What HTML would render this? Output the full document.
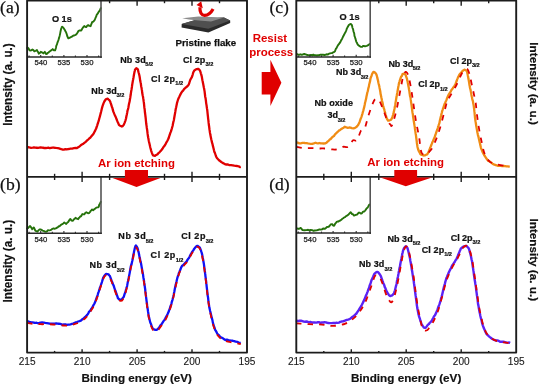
<!DOCTYPE html>
<html><head><meta charset="utf-8"><style>
html,body{margin:0;padding:0;background:#fff;width:539px;height:385px;overflow:hidden;font-family:"Liberation Sans",sans-serif}
svg{display:block;will-change:transform}
</style></head><body>
<svg width="539" height="385" viewBox="0 0 539 385">
<rect width="539" height="385" fill="#fff"/>
<path d="M27.20 48.00 L28.00 47.82 L28.56 48.39 L29.26 49.91 L30.00 50.51 L31.20 50.35 L32.40 49.56 L33.39 50.15 L34.40 51.39 L35.66 50.76 L36.90 50.04 L37.57 51.23 L38.18 52.23 L38.80 53.68 L39.76 53.02 L40.80 51.78 L42.08 52.36 L43.30 53.39 L44.80 51.81 L45.50 53.21 L46.20 54.07 L46.94 53.88 L47.70 52.99 L48.45 52.69 L49.20 51.72 L50.70 50.65 L51.64 50.15 L52.70 49.09 L53.93 50.32 L55.10 50.38 L55.45 49.29 L55.74 48.61 L56.01 47.44 L56.28 45.84 L56.60 45.15 L56.98 44.37 L57.39 42.83 L57.81 41.62 L58.22 40.66 L58.60 39.59 L58.88 38.50 L59.14 37.87 L59.38 36.87 L59.62 35.91 L59.86 34.85 L60.10 33.86 L60.36 32.43 L60.63 31.02 L60.91 29.82 L61.17 28.68 L61.40 28.11 L61.60 27.39 L62.20 26.64 L63.50 27.88 L64.21 29.15 L65.00 30.22 L65.46 31.33 L65.95 31.99 L66.44 33.31 L66.90 34.78 L67.30 36.25 L67.67 36.98 L68.03 37.87 L68.40 38.38 L69.90 37.68 L70.88 37.10 L71.90 36.70 L72.82 35.86 L73.80 35.50 L75.04 35.04 L76.30 34.42 L77.00 33.30 L77.65 32.48 L78.30 31.07 L79.31 30.46 L80.30 30.48 L81.25 30.47 L82.20 28.80 L82.86 27.77 L83.53 26.78 L84.20 26.07 L85.20 26.82 L86.20 27.11 L87.18 25.75 L88.20 25.14 L89.43 25.85 L90.60 26.19 L91.01 24.98 L91.34 24.06 L91.68 23.44 L92.10 22.17 L93.32 21.60 L94.60 20.12 L95.03 19.18 L95.44 18.02 L95.83 17.12 L96.21 16.44 L96.60 15.04 L97.26 14.12 L97.90 13.34 L98.50 12.19 L99.32 11.18 L100.00 9.99 L100.80 8.20" fill="none" stroke="#25720a" stroke-width="1.9" stroke-linejoin="round" stroke-linecap="round"/>
<line x1="101.0" y1="0.6" x2="101.0" y2="57.9" stroke="#555" stroke-width="1.6"/>
<line x1="27.1" y1="57.1" x2="101.8" y2="57.1" stroke="#2a2a2a" stroke-width="1.5"/>
<g stroke="#2a2a2a" stroke-width="1.1"><line x1="29.1" y1="57.1" x2="29.1" y2="55.6"/><line x1="40.7" y1="57.1" x2="40.7" y2="54.9"/><line x1="52.3" y1="57.1" x2="52.3" y2="55.6"/><line x1="63.9" y1="57.1" x2="63.9" y2="54.9"/><line x1="75.4" y1="57.1" x2="75.4" y2="55.6"/><line x1="87.0" y1="57.1" x2="87.0" y2="54.9"/><line x1="98.6" y1="57.1" x2="98.6" y2="55.6"/></g>
<g font-family="Liberation Sans, sans-serif" font-size="7.7" fill="#1a1a1a" text-anchor="middle" stroke="#1a1a1a" stroke-width="0.25">
<text x="40.8" y="65.3">540</text>
<text x="63.9" y="65.3">535</text>
<text x="87.0" y="65.3">530</text>
</g>
<path d="M27.20 228.40 L28.00 228.10 L28.97 227.02 L30.10 226.07 L30.82 226.89 L31.54 228.09 L32.20 229.16 L33.04 228.40 L33.80 227.47 L34.29 228.33 L34.76 229.41 L35.30 230.70 L36.31 231.19 L37.40 231.59 L38.46 230.38 L39.50 229.54 L40.50 229.36 L41.50 229.86 L42.51 230.54 L43.60 230.95 L44.93 231.66 L46.20 231.73 L47.00 231.38 L47.80 230.20 L49.07 230.43 L50.40 230.10 L51.49 229.60 L52.50 228.82 L53.47 228.45 L54.50 228.75 L55.76 228.41 L57.10 227.62 L57.97 227.12 L58.84 226.16 L59.70 226.25 L60.56 225.21 L61.40 224.54 L62.20 224.18 L63.29 223.41 L64.30 222.42 L65.26 223.31 L66.20 223.98 L67.19 222.76 L68.20 221.93 L68.87 220.88 L69.56 219.77 L70.30 218.96 L71.57 220.54 L72.90 220.79 L73.77 219.48 L74.63 218.81 L75.50 217.80 L76.83 218.72 L78.10 219.17 L78.84 218.06 L79.52 217.48 L80.20 216.47 L80.90 216.33 L81.61 215.38 L82.30 214.08 L83.30 214.26 L84.30 214.41 L85.38 212.82 L86.40 212.23 L87.20 212.70 L88.00 213.24 L89.02 213.04 L90.10 211.93 L90.77 210.72 L91.43 210.25 L92.10 209.46 L93.14 210.24 L94.20 209.28 L95.25 208.65 L96.30 207.63 L97.42 207.37 L98.40 207.21 L98.80 206.73 L99.08 205.17 L99.40 204.49 L99.89 203.76 L100.42 202.64 L100.80 201.80" fill="none" stroke="#25720a" stroke-width="1.9" stroke-linejoin="round" stroke-linecap="round"/>
<line x1="101.0" y1="176.9" x2="101.0" y2="234.0" stroke="#555" stroke-width="1.6"/>
<line x1="27.1" y1="233.2" x2="101.8" y2="233.2" stroke="#2a2a2a" stroke-width="1.5"/>
<g stroke="#2a2a2a" stroke-width="1.1"><line x1="29.1" y1="233.2" x2="29.1" y2="231.7"/><line x1="40.7" y1="233.2" x2="40.7" y2="231.0"/><line x1="52.3" y1="233.2" x2="52.3" y2="231.7"/><line x1="63.9" y1="233.2" x2="63.9" y2="231.0"/><line x1="75.4" y1="233.2" x2="75.4" y2="231.7"/><line x1="87.0" y1="233.2" x2="87.0" y2="231.0"/><line x1="98.6" y1="233.2" x2="98.6" y2="231.7"/></g>
<g font-family="Liberation Sans, sans-serif" font-size="7.7" fill="#1a1a1a" text-anchor="middle" stroke="#1a1a1a" stroke-width="0.25">
<text x="40.8" y="241.8">540</text>
<text x="63.9" y="241.8">535</text>
<text x="87.0" y="241.8">530</text>
</g>
<path d="M296.90 53.90 L297.85 54.62 L299.21 54.76 L300.60 54.29 L301.83 54.79 L303.08 54.27 L304.50 54.03 L305.50 54.33 L306.59 54.75 L307.73 54.97 L308.85 55.10 L309.90 55.11 L311.10 54.97 L312.24 55.44 L313.36 54.63 L314.50 55.39 L315.69 55.30 L316.90 55.51 L318.09 55.25 L319.20 55.20 L320.54 54.67 L321.78 54.70 L323.00 54.60 L324.26 55.01 L325.50 54.81 L326.60 54.27 L327.88 54.53 L329.00 53.66 L330.18 53.40 L331.30 53.19 L332.28 53.01 L333.20 52.30 L334.08 52.03 L335.00 51.29 L335.52 49.68 L336.07 48.53 L336.64 47.83 L337.20 46.67 L337.75 45.63 L338.30 44.75 L338.85 44.30 L339.40 43.33 L339.95 42.74 L340.50 41.81 L341.05 40.50 L341.60 39.63 L342.16 38.66 L342.72 37.38 L343.27 36.26 L343.80 35.21 L344.30 34.28 L344.78 33.37 L345.25 32.49 L345.70 31.69 L346.15 30.62 L346.58 29.42 L347.00 28.16 L347.40 27.52 L348.13 26.25 L348.80 25.05 L350.00 24.16 L350.87 24.00 L351.80 24.84 L352.09 26.08 L352.37 27.31 L352.65 28.10 L352.93 28.80 L353.21 29.86 L353.50 31.49 L353.75 32.10 L354.01 32.81 L354.26 33.80 L354.52 36.12 L354.78 36.61 L355.04 37.27 L355.30 38.40 L355.66 39.38 L356.02 40.95 L356.38 41.82 L356.74 42.57 L357.10 43.20 L357.70 44.62 L358.31 45.08 L358.90 45.62 L360.60 46.82 L362.00 46.89 L363.30 45.87 L365.00 46.24 L366.80 45.88 L368.20 45.21 L369.60 44.10" fill="none" stroke="#25720a" stroke-width="1.9" stroke-linejoin="round" stroke-linecap="round"/>
<line x1="370.2" y1="0.6" x2="370.2" y2="57.8" stroke="#555" stroke-width="1.6"/>
<line x1="296.3" y1="57.0" x2="371.0" y2="57.0" stroke="#2a2a2a" stroke-width="1.5"/>
<g stroke="#2a2a2a" stroke-width="1.1"><line x1="298.3" y1="57.0" x2="298.3" y2="55.5"/><line x1="309.9" y1="57.0" x2="309.9" y2="54.8"/><line x1="321.5" y1="57.0" x2="321.5" y2="55.5"/><line x1="333.1" y1="57.0" x2="333.1" y2="54.8"/><line x1="344.6" y1="57.0" x2="344.6" y2="55.5"/><line x1="356.2" y1="57.0" x2="356.2" y2="54.8"/><line x1="367.8" y1="57.0" x2="367.8" y2="55.5"/></g>
<g font-family="Liberation Sans, sans-serif" font-size="7.7" fill="#1a1a1a" text-anchor="middle" stroke="#1a1a1a" stroke-width="0.25">
<text x="310.0" y="65.2">540</text>
<text x="333.1" y="65.2">535</text>
<text x="356.2" y="65.2">530</text>
</g>
<path d="M297.00 228.50 L298.80 228.95 L299.75 228.47 L300.70 227.93 L301.60 228.93 L302.50 230.06 L304.40 230.27 L306.30 230.07 L308.10 229.81 L309.29 230.32 L310.50 229.86 L312.40 230.25 L313.55 230.88 L314.70 230.53 L316.60 230.34 L317.73 230.04 L318.90 229.56 L320.07 229.57 L321.20 229.44 L322.18 229.36 L323.10 228.49 L325.00 228.68 L325.90 228.00 L326.80 227.04 L328.70 226.77 L329.67 225.78 L330.60 224.45 L332.20 224.11 L333.04 225.48 L333.90 225.80 L334.46 225.23 L335.02 223.99 L335.70 223.21 L336.56 221.93 L337.53 221.52 L338.50 221.51 L339.43 220.74 L340.37 220.48 L341.30 219.80 L342.23 218.82 L343.16 218.18 L344.10 217.49 L345.08 217.04 L346.07 216.10 L347.00 215.73 L348.24 214.83 L349.30 213.69 L350.70 212.21 L351.37 213.09 L352.10 214.15 L353.03 214.31 L354.00 215.59 L355.80 214.86 L357.20 214.50 L358.12 213.36 L359.10 212.56 L360.06 212.87 L361.00 213.65 L361.87 213.37 L362.80 211.88 L363.56 211.53 L364.39 211.51 L365.20 210.51 L365.98 209.37 L366.75 208.28 L367.50 207.71 L368.29 206.50 L369.06 205.02 L369.60 204.50" fill="none" stroke="#25720a" stroke-width="1.9" stroke-linejoin="round" stroke-linecap="round"/>
<line x1="370.2" y1="176.9" x2="370.2" y2="233.9" stroke="#555" stroke-width="1.6"/>
<line x1="296.3" y1="233.1" x2="371.0" y2="233.1" stroke="#2a2a2a" stroke-width="1.5"/>
<g stroke="#2a2a2a" stroke-width="1.1"><line x1="298.3" y1="233.1" x2="298.3" y2="231.6"/><line x1="309.9" y1="233.1" x2="309.9" y2="230.9"/><line x1="321.5" y1="233.1" x2="321.5" y2="231.6"/><line x1="333.1" y1="233.1" x2="333.1" y2="230.9"/><line x1="344.6" y1="233.1" x2="344.6" y2="231.6"/><line x1="356.2" y1="233.1" x2="356.2" y2="230.9"/><line x1="367.8" y1="233.1" x2="367.8" y2="231.6"/></g>
<g font-family="Liberation Sans, sans-serif" font-size="7.7" fill="#1a1a1a" text-anchor="middle" stroke="#1a1a1a" stroke-width="0.25">
<text x="310.0" y="241.7">540</text>
<text x="333.1" y="241.7">535</text>
<text x="356.2" y="241.7">530</text>
</g>
<path d="M27.00 147.30 L28.00 147.11 L29.41 147.45 L31.07 147.81 L32.80 147.68 L33.98 147.42 L35.25 147.57 L36.58 147.75 L37.93 147.98 L39.28 147.57 L40.60 147.35 L41.90 147.66 L43.20 147.75 L44.50 148.01 L45.80 148.01 L47.10 147.77 L48.40 147.63 L49.73 148.21 L51.10 147.90 L52.46 147.67 L53.79 147.52 L55.05 147.77 L56.20 147.97 L57.71 148.13 L59.04 148.44 L60.25 148.80 L61.40 149.17 L62.75 149.57 L63.95 149.63 L65.30 149.21 L66.51 149.47 L67.83 149.04 L69.18 148.99 L70.50 148.58 L72.20 148.55 L73.90 148.19 L75.60 147.91 L76.89 148.17 L78.19 147.21 L79.50 146.53 L80.80 145.28 L81.86 144.58 L82.93 144.02 L83.99 143.15 L85.02 142.40 L86.00 141.57 L87.12 140.35 L88.17 139.62 L89.18 138.43 L90.20 137.83 L91.04 136.63 L91.88 135.80 L92.72 134.70 L93.53 133.73 L94.30 132.19 L94.91 131.24 L95.49 129.84 L96.05 128.72 L96.60 127.26 L97.15 125.61 L97.70 123.72 L98.07 122.75 L98.45 121.53 L98.83 120.47 L99.21 118.79 L99.59 117.45 L99.96 116.08 L100.32 114.69 L100.66 113.35 L101.00 112.10 L101.41 110.41 L101.80 108.74 L102.17 107.34 L102.53 106.20 L102.88 105.23 L103.24 104.11 L103.60 103.12 L104.47 101.25 L105.33 99.99 L106.10 99.01 L107.80 98.68 L108.54 99.53 L109.37 100.21 L110.30 101.74 L110.68 103.16 L111.09 104.17 L111.51 105.55 L111.94 106.95 L112.39 107.94 L112.83 109.92 L113.27 111.41 L113.70 112.36 L114.28 113.89 L114.87 115.26 L115.46 116.42 L116.03 117.84 L116.59 119.26 L117.10 120.67 L117.80 122.30 L118.42 123.58 L119.02 124.98 L119.60 125.52 L121.80 126.49 L122.73 126.10 L123.74 124.88 L124.70 122.66 L125.03 121.69 L125.35 120.82 L125.66 119.77 L125.97 118.75 L126.27 116.94 L126.58 115.51 L126.89 114.19 L127.20 112.63 L127.49 110.78 L127.78 109.84 L128.09 108.98 L128.39 107.53 L128.69 105.64 L128.98 104.08 L129.27 102.72 L129.54 101.84 L129.80 100.31 L130.04 98.77 L130.27 97.66 L130.48 96.08 L130.69 95.06 L130.89 93.34 L131.09 91.87 L131.28 90.75 L131.49 89.69 L131.70 88.33 L131.92 86.90 L132.15 85.00 L132.39 83.59 L132.62 82.22 L132.85 80.87 L133.08 79.81 L133.30 78.47 L133.51 77.51 L133.70 76.39 L134.00 74.56 L134.27 73.10 L134.51 71.90 L134.75 70.94 L135.00 69.81 L136.30 68.16 L137.90 69.48 L138.21 70.90 L138.52 72.21 L138.83 73.26 L139.15 74.57 L139.50 76.02 L139.71 77.27 L139.92 78.54 L140.14 80.29 L140.37 81.44 L140.60 82.49 L140.83 83.36 L141.05 85.34 L141.28 86.73 L141.50 87.68 L141.72 89.19 L141.94 90.21 L142.16 92.51 L142.38 93.80 L142.60 94.98 L142.81 96.06 L143.02 96.80 L143.22 98.24 L143.40 99.25 L143.62 101.15 L143.82 102.22 L144.00 103.75 L144.18 105.69 L144.35 107.47 L144.52 108.47 L144.70 109.63 L144.85 111.30 L145.00 112.78 L145.15 113.77 L145.30 114.98 L145.45 116.24 L145.60 117.41 L145.75 118.75 L145.90 120.50 L146.05 121.89 L146.20 123.52 L146.35 124.50 L146.51 125.62 L146.66 126.64 L146.83 128.00 L147.01 129.09 L147.20 130.24 L147.38 131.94 L147.58 133.64 L147.79 135.06 L148.00 136.57 L148.22 137.78 L148.44 138.82 L148.66 140.15 L148.88 141.29 L149.10 142.22 L149.43 143.55 L149.76 144.92 L150.10 146.55 L150.44 147.97 L150.77 149.07 L151.10 150.53 L151.74 152.36 L152.36 153.97 L153.00 155.27 L155.00 155.81 L156.18 154.91 L157.60 154.15 L158.48 153.12 L159.47 152.38 L160.49 151.12 L161.50 150.01 L162.49 148.80 L163.49 146.93 L164.47 145.92 L165.40 144.36 L166.09 143.06 L166.76 141.81 L167.40 140.77 L168.01 139.59 L168.60 138.34 L169.17 136.42 L169.71 134.97 L170.23 133.12 L170.73 131.95 L171.20 130.76 L171.57 129.36 L171.92 128.25 L172.26 127.04 L172.58 125.95 L172.89 124.31 L173.20 122.79 L173.45 121.53 L173.69 120.84 L173.92 119.73 L174.15 118.26 L174.38 116.93 L174.63 115.53 L174.90 114.09 L175.13 112.79 L175.37 111.41 L175.61 109.79 L175.86 108.40 L176.12 107.51 L176.39 106.14 L176.66 104.73 L176.93 103.40 L177.20 102.32 L177.69 100.74 L178.18 99.17 L178.70 98.05 L179.23 96.98 L179.80 95.66 L180.58 94.12 L181.41 92.65 L182.27 91.32 L183.10 90.59 L184.22 88.82 L185.33 87.98 L186.30 87.11 L187.38 86.24 L188.30 85.28 L188.78 84.48 L189.25 83.03 L189.72 81.51 L190.20 80.08 L190.89 78.71 L191.58 77.71 L192.20 76.29 L192.66 74.70 L193.05 73.20 L193.50 71.95 L194.37 70.39 L195.40 69.78 L196.69 69.10 L198.00 68.78 L199.06 69.54 L200.00 70.51 L200.43 71.79 L200.82 73.28 L201.21 74.40 L201.60 75.85 L201.87 77.04 L202.13 78.69 L202.40 80.27 L202.67 81.20 L202.93 82.87 L203.20 84.10 L203.43 85.24 L203.67 86.44 L203.90 87.76 L204.14 88.75 L204.36 90.10 L204.59 91.39 L204.80 93.06 L205.00 94.90 L205.20 96.64 L205.39 97.50 L205.57 98.28 L205.75 99.60 L205.93 100.77 L206.10 102.58 L206.33 104.12 L206.54 105.22 L206.75 106.83 L206.96 108.39 L207.20 109.75 L207.34 110.94 L207.49 112.31 L207.64 113.79 L207.80 115.30 L207.95 116.71 L208.11 118.28 L208.28 119.61 L208.44 120.89 L208.60 122.70 L208.78 124.12 L208.95 125.52 L209.12 126.45 L209.29 127.88 L209.47 129.48 L209.66 130.48 L209.87 132.17 L210.10 133.38 L210.36 134.86 L210.64 136.19 L210.94 137.65 L211.25 139.29 L211.57 140.45 L211.89 142.12 L212.20 143.07 L212.50 144.10 L212.88 145.94 L213.24 147.19 L213.61 148.65 L213.98 150.33 L214.37 151.86 L214.80 152.57 L215.34 154.24 L215.91 156.01 L216.51 157.33 L217.16 158.21 L217.90 159.06 L218.95 160.21 L220.11 161.03 L221.34 162.02 L222.60 162.86 L223.88 163.51 L225.20 164.29 L226.57 164.51 L228.00 164.51 L229.51 165.19 L231.08 165.15 L232.69 165.37 L234.30 165.67 L235.69 165.89 L237.20 166.00 L238.66 166.33 L239.91 167.13 L240.80 166.90" fill="none" stroke="#e00000" stroke-width="2.3" stroke-linejoin="round"/>
<path d="M27.00 321.60 L28.00 321.41 L29.41 321.90 L31.07 322.16 L32.80 322.31 L33.98 322.75 L35.25 322.78 L36.58 322.73 L37.93 323.25 L39.28 322.96 L40.60 322.63 L42.16 322.44 L43.72 322.54 L45.28 322.87 L46.84 323.08 L48.40 323.29 L49.70 323.59 L51.00 323.74 L52.30 323.59 L53.60 323.73 L54.90 323.68 L56.20 323.41 L57.53 323.70 L58.90 323.76 L60.26 323.82 L61.59 324.48 L62.85 324.57 L64.00 324.33 L65.48 324.35 L66.76 324.97 L67.96 324.58 L69.20 324.53 L70.50 324.32 L71.81 323.98 L73.11 323.62 L74.40 322.95 L75.68 322.43 L76.95 322.02 L78.22 321.49 L79.50 321.16 L80.85 320.71 L82.24 319.35 L83.57 318.55 L84.70 317.35 L85.82 316.25 L86.67 315.37 L87.50 314.46 L88.32 313.32 L89.12 311.59 L90.10 310.81 L90.72 309.81 L91.41 308.65 L92.15 307.80 L92.90 306.41 L93.63 304.83 L94.30 303.84 L94.83 302.80 L95.33 301.29 L95.82 300.28 L96.29 298.96 L96.76 297.21 L97.23 296.36 L97.70 294.87 L98.12 293.21 L98.55 292.11 L98.98 290.80 L99.40 289.69 L99.82 287.89 L100.23 286.98 L100.62 285.90 L101.00 284.76 L101.48 283.28 L101.92 282.03 L102.35 280.61 L102.77 279.17 L103.18 277.71 L103.60 277.06 L104.44 275.71 L105.27 274.62 L106.10 274.00 L107.34 274.12 L108.60 274.32 L109.22 275.44 L109.84 275.89 L110.49 277.57 L111.20 279.55 L111.64 281.05 L112.12 281.89 L112.61 283.27 L113.11 284.56 L113.61 285.39 L114.11 287.23 L114.60 288.58 L115.08 289.92 L115.57 291.04 L116.06 292.50 L116.54 293.89 L117.01 295.46 L117.47 296.46 L117.90 298.12 L119.25 299.41 L120.50 299.75 L121.76 299.38 L123.00 297.74 L123.51 297.24 L124.04 296.02 L124.56 294.15 L125.05 292.83 L125.50 291.79 L125.90 289.97 L126.28 288.76 L126.62 287.39 L126.92 286.74 L127.20 285.40 L127.53 283.59 L127.77 282.11 L128.10 280.95 L128.35 279.45 L128.64 278.63 L128.96 276.47 L129.27 275.01 L129.56 273.62 L129.80 272.29 L130.10 270.54 L130.29 269.33 L130.60 267.40 L130.89 265.86 L131.24 265.10 L131.62 264.00 L132.02 262.10 L132.40 260.52 L132.67 258.51 L132.94 257.60 L133.22 255.73 L133.50 254.21 L133.78 253.42 L134.04 251.55 L134.30 250.47 L134.85 248.09 L135.37 246.25 L135.90 245.52 L136.73 246.43 L137.60 248.28 L137.90 249.29 L138.19 250.74 L138.49 251.93 L138.81 252.99 L139.14 255.07 L139.50 256.66 L139.73 258.02 L139.98 258.70 L140.23 260.36 L140.49 261.09 L140.76 262.03 L141.03 263.53 L141.31 265.00 L141.58 266.61 L141.84 267.92 L142.10 269.60 L142.32 271.12 L142.54 272.04 L142.76 273.00 L142.99 274.42 L143.21 276.13 L143.43 277.68 L143.65 278.83 L143.86 279.91 L144.06 281.33 L144.25 282.89 L144.43 283.81 L144.60 285.31 L144.82 286.77 L145.01 288.15 L145.18 289.22 L145.32 290.85 L145.47 291.91 L145.60 292.65 L145.75 294.22 L145.90 295.35 L146.06 296.95 L146.21 298.15 L146.36 299.19 L146.51 300.55 L146.67 301.70 L146.83 302.86 L147.01 304.33 L147.20 305.97 L147.38 307.18 L147.58 308.44 L147.79 309.66 L148.00 311.26 L148.22 312.67 L148.44 314.20 L148.66 315.44 L148.88 317.07 L149.10 317.45 L149.50 319.26 L149.90 321.00 L150.30 322.58 L150.70 323.32 L151.10 324.29 L151.73 326.14 L152.34 327.79 L153.00 328.98 L154.09 329.39 L155.30 329.85 L156.65 329.94 L158.20 328.76 L158.92 327.65 L159.69 326.58 L160.49 325.26 L161.30 324.63 L162.10 323.39 L162.89 322.19 L163.69 320.92 L164.48 319.87 L165.26 318.52 L166.00 317.11 L166.59 316.12 L167.17 314.90 L167.73 313.77 L168.27 312.45 L168.80 311.37 L169.30 309.87 L169.78 308.56 L170.24 307.25 L170.69 305.68 L171.11 304.75 L171.52 303.19 L171.90 301.51 L172.26 300.73 L172.59 299.55 L172.91 298.01 L173.21 296.97 L173.50 295.79 L173.80 294.48 L174.09 292.69 L174.36 291.50 L174.62 289.94 L174.89 288.58 L175.18 287.20 L175.50 285.66 L175.80 284.62 L176.11 283.03 L176.44 281.83 L176.78 280.36 L177.14 278.70 L177.51 277.36 L177.90 276.19 L178.39 274.85 L178.90 273.06 L179.44 271.94 L180.00 270.42 L180.55 269.25 L181.10 267.54 L182.20 265.68 L183.30 265.00 L184.40 263.74 L185.47 262.62 L186.53 261.64 L187.60 259.64 L188.26 258.78 L188.92 258.07 L189.58 256.78 L190.24 255.34 L190.90 254.19 L191.70 252.66 L192.50 251.41 L193.30 250.32 L194.10 248.89 L195.24 247.57 L196.40 246.37 L197.40 245.80 L199.30 247.17 L199.96 247.82 L200.64 249.61 L201.30 251.66 L201.58 252.26 L201.86 253.42 L202.14 254.40 L202.41 255.90 L202.68 257.53 L202.95 258.69 L203.20 260.06 L203.41 261.23 L203.62 262.46 L203.82 263.68 L204.01 264.84 L204.21 266.50 L204.40 267.83 L204.60 269.07 L204.80 270.94 L204.95 271.90 L205.11 273.40 L205.27 274.29 L205.43 276.09 L205.59 277.21 L205.75 278.34 L205.91 279.93 L206.06 280.94 L206.21 282.14 L206.36 283.68 L206.50 284.82 L206.68 286.54 L206.85 288.01 L207.01 289.43 L207.16 290.75 L207.32 292.19 L207.47 293.38 L207.63 294.91 L207.80 296.32 L207.97 296.99 L208.14 298.06 L208.31 300.11 L208.48 301.31 L208.66 302.75 L208.86 304.07 L209.07 305.52 L209.30 307.40 L209.56 308.31 L209.84 309.67 L210.14 311.05 L210.45 312.16 L210.77 313.45 L211.09 314.92 L211.40 316.34 L211.70 317.75 L212.08 318.83 L212.44 320.18 L212.81 322.36 L213.18 323.66 L213.57 325.21 L214.00 326.32 L214.54 327.68 L215.11 329.79 L215.71 330.67 L216.36 331.82 L217.10 333.35 L217.91 334.47 L218.79 335.08 L219.74 336.26 L220.74 337.37 L221.80 337.69 L222.94 338.34 L224.17 339.21 L225.44 340.10 L226.73 339.64 L228.00 339.98 L229.56 340.51 L231.13 340.61 L232.71 340.76 L234.30 341.10 L235.69 341.69 L237.20 341.78 L238.66 342.48 L239.91 342.96 L240.80 342.90" fill="none" stroke="#1010f5" stroke-width="2.3" stroke-linejoin="round"/>
<path d="M27.0 322.9 C28.0 323.1 30.5 323.6 32.8 323.8 C35.1 324.0 38.0 324.1 40.6 324.2 C43.2 324.3 45.8 324.1 48.4 324.2 C51.0 324.3 53.6 324.4 56.2 324.6 C58.8 324.8 61.8 325.4 64.0 325.5 C66.2 325.6 67.5 325.7 69.2 325.5 C70.9 325.3 72.7 324.7 74.4 324.2 C76.1 323.7 77.8 323.2 79.5 322.3 C81.2 321.4 83.4 319.9 84.7 318.8 C86.0 317.7 86.6 316.9 87.5 315.8 C88.4 314.7 89.0 313.9 90.1 312.1 C91.2 310.3 93.0 307.9 94.3 305.2 C95.6 302.5 96.6 299.2 97.7 295.9 C98.8 292.7 100.0 288.7 101.0 285.7 C102.0 282.7 102.8 279.9 103.6 278.1 C104.4 276.3 105.3 275.4 106.1 275.1 C106.9 274.8 107.8 275.2 108.6 276.1 C109.4 277.0 110.2 278.4 111.2 280.7 C112.2 283.0 113.5 287.0 114.6 289.9 C115.7 292.9 116.9 296.6 117.9 298.4 C118.9 300.2 119.7 300.8 120.5 300.9 C121.3 301.0 122.2 300.6 123.0 299.2 C123.8 297.8 124.8 294.9 125.5 292.8 C126.2 290.7 126.8 288.1 127.2 286.3 C127.6 284.5 127.7 283.9 128.1 281.8 C128.5 279.7 129.4 276.0 129.8 273.8 C130.2 271.6 130.2 270.8 130.6 268.8 C131.0 266.8 131.8 264.5 132.4 261.7 C133.0 258.9 133.7 254.2 134.3 251.8 C134.9 249.4 135.4 247.7 135.9 247.4 C136.4 247.1 137.0 248.3 137.6 250.0 C138.2 251.7 138.8 254.3 139.5 257.8 C140.2 261.3 141.2 266.1 142.1 270.8 C142.9 275.6 144.0 282.0 144.6 286.3 C145.2 290.6 145.5 293.2 145.9 296.7 C146.3 300.2 146.7 303.4 147.2 307.1 C147.7 310.8 148.4 315.7 149.1 318.8 C149.8 321.9 150.4 324.1 151.1 326.0 C151.8 327.9 152.3 329.0 153.0 329.9 C153.7 330.8 154.4 331.2 155.3 331.2 C156.2 331.2 157.1 331.0 158.2 329.9 C159.3 328.8 160.8 326.6 162.1 324.7 C163.4 322.8 164.8 321.1 166.0 318.8 C167.2 316.5 168.3 313.6 169.3 311.0 C170.3 308.4 171.2 305.8 171.9 303.2 C172.7 300.6 173.2 298.1 173.8 295.4 C174.4 292.8 174.8 290.3 175.5 287.3 C176.2 284.3 177.0 280.4 177.9 277.3 C178.8 274.2 180.0 271.0 181.1 268.9 C182.2 266.9 183.3 266.3 184.4 265.0 C185.5 263.7 186.5 262.7 187.6 261.1 C188.7 259.5 189.8 257.1 190.9 255.2 C192.0 253.4 193.0 251.4 194.1 250.0 C195.2 248.6 196.5 247.1 197.4 246.8 C198.3 246.5 198.7 247.1 199.3 248.1 C200.0 249.1 200.7 250.3 201.3 252.6 C202.0 254.9 202.6 258.4 203.2 261.7 C203.8 264.9 204.2 268.0 204.8 272.1 C205.4 276.2 206.0 282.1 206.5 286.3 C207.0 290.5 207.3 293.6 207.8 297.2 C208.3 300.8 208.7 304.5 209.3 308.1 C210.0 311.7 210.9 315.8 211.7 319.0 C212.5 322.2 213.1 325.0 214.0 327.6 C214.9 330.2 215.8 332.7 217.1 334.6 C218.4 336.6 220.0 338.1 221.8 339.3 C223.6 340.5 225.9 341.0 228.0 341.6 C230.1 342.2 232.2 342.3 234.3 342.7 C236.4 343.1 239.7 343.9 240.8 344.2" fill="none" stroke="#e00000" stroke-width="1.8" stroke-linejoin="round" stroke-dasharray="5.5 6"/>
<path d="M296.30 142.30 L297.56 142.59 L299.36 143.40 L301.20 143.29 L302.46 142.81 L303.74 142.93 L305.05 143.01 L306.40 143.05 L307.87 143.36 L309.42 143.65 L310.91 143.85 L312.20 143.89 L313.81 143.41 L315.50 142.76 L316.63 143.08 L317.97 143.28 L319.39 143.01 L320.78 143.41 L322.00 143.38 L323.69 143.48 L325.16 143.38 L326.50 142.75 L327.62 141.45 L328.60 140.91 L329.80 139.38 L330.72 139.08 L331.74 137.77 L332.83 136.64 L333.93 136.02 L335.00 134.32 L336.05 133.46 L337.11 132.26 L338.17 131.35 L339.20 130.41 L340.20 129.95 L341.40 128.95 L342.57 128.22 L343.68 127.67 L344.70 126.72 L346.34 127.39 L347.90 127.79 L349.17 127.50 L350.52 127.64 L351.80 128.09 L353.53 128.40 L355.10 127.82 L356.41 127.09 L357.70 125.52 L358.30 124.74 L358.92 123.38 L359.56 122.21 L360.22 120.23 L360.90 118.24 L361.24 117.48 L361.59 116.52 L361.95 115.23 L362.31 114.09 L362.67 112.75 L363.03 111.53 L363.40 110.30 L363.77 108.80 L364.13 107.40 L364.50 105.65 L364.81 104.20 L365.12 102.33 L365.44 101.38 L365.76 100.08 L366.09 98.82 L366.41 96.85 L366.72 95.50 L367.04 94.10 L367.34 92.40 L367.64 91.59 L367.93 90.65 L368.20 88.97 L368.54 87.63 L368.87 86.55 L369.17 84.55 L369.47 83.44 L369.75 82.40 L370.04 81.36 L370.32 79.46 L370.61 78.09 L370.90 77.28 L371.57 75.71 L372.24 73.74 L372.92 72.57 L373.60 71.83 L375.00 72.47 L376.40 74.45 L376.74 75.56 L377.06 76.74 L377.38 78.14 L377.70 79.38 L378.03 80.77 L378.36 82.52 L378.72 84.11 L379.10 85.40 L379.33 86.43 L379.57 87.93 L379.81 89.14 L380.06 90.30 L380.32 91.72 L380.57 93.92 L380.84 94.86 L381.10 96.17 L381.37 97.51 L381.64 98.67 L381.91 100.28 L382.17 101.63 L382.44 102.78 L382.70 103.46 L383.07 105.48 L383.46 107.15 L383.85 108.55 L384.24 109.33 L384.63 111.11 L385.02 112.36 L385.39 113.86 L385.75 115.08 L386.09 116.08 L386.40 117.44 L387.29 119.44 L388.03 120.59 L388.70 120.59 L390.40 119.97 L390.99 119.70 L391.66 118.80 L392.37 117.17 L393.10 114.80 L393.33 113.87 L393.57 112.97 L393.81 112.10 L394.05 110.86 L394.30 109.72 L394.55 108.46 L394.80 106.93 L395.05 105.74 L395.31 104.28 L395.56 102.60 L395.81 101.07 L396.06 99.68 L396.30 98.17 L396.56 96.51 L396.82 95.27 L397.08 93.75 L397.34 92.51 L397.60 90.83 L397.86 89.43 L398.11 88.04 L398.37 86.49 L398.63 85.25 L398.88 83.80 L399.14 82.61 L399.40 81.86 L399.93 80.08 L400.49 78.48 L401.04 76.97 L401.57 76.18 L402.06 75.77 L402.50 74.18 L404.20 73.49 L404.95 74.02 L405.79 75.38 L406.70 78.03 L406.92 78.39 L407.14 79.83 L407.37 80.54 L407.61 81.61 L407.85 83.03 L408.09 84.24 L408.33 85.65 L408.58 86.88 L408.83 88.10 L409.07 89.71 L409.32 90.98 L409.56 92.97 L409.80 94.40 L409.99 95.88 L410.19 96.56 L410.38 97.32 L410.58 98.29 L410.77 99.92 L410.96 101.15 L411.16 102.86 L411.35 103.92 L411.54 105.14 L411.74 106.85 L411.93 108.20 L412.12 109.83 L412.32 111.34 L412.51 112.64 L412.71 113.54 L412.90 114.73 L413.10 116.79 L413.30 117.88 L413.51 119.26 L413.71 120.61 L413.93 121.96 L414.14 123.30 L414.35 124.57 L414.56 125.91 L414.76 126.87 L414.96 128.95 L415.16 130.17 L415.34 131.08 L415.52 132.58 L415.69 133.92 L415.85 134.55 L416.00 135.57 L416.29 138.16 L416.52 139.95 L416.71 141.47 L416.88 142.97 L417.04 143.97 L417.21 144.96 L417.40 146.46 L417.75 147.88 L418.10 149.09 L418.47 150.31 L418.90 151.26 L419.57 152.26 L420.33 154.06 L421.10 154.71 L423.50 155.49 L424.81 155.43 L426.10 154.72 L427.22 154.32 L428.40 152.40 L428.95 151.00 L429.52 149.73 L430.12 147.72 L430.75 146.51 L431.40 144.77 L431.88 143.64 L432.38 142.24 L432.90 141.26 L433.43 139.99 L433.95 138.85 L434.48 137.73 L435.00 136.12 L435.46 134.73 L435.94 133.45 L436.42 131.88 L436.89 130.51 L437.36 129.53 L437.81 128.00 L438.22 126.36 L438.60 125.37 L439.04 124.11 L439.41 123.09 L439.74 121.33 L440.05 119.71 L440.36 118.46 L440.70 117.06 L441.06 115.72 L441.42 114.09 L441.79 112.71 L442.16 111.12 L442.53 110.08 L442.90 108.81 L443.46 107.27 L444.02 105.68 L444.60 104.00 L445.20 102.77 L445.68 101.60 L446.16 100.64 L446.65 99.45 L447.19 97.94 L447.80 96.53 L448.51 94.91 L449.30 93.67 L450.13 92.45 L450.94 91.06 L451.70 89.62 L452.55 88.77 L453.34 87.24 L454.11 86.51 L454.90 85.22 L455.45 84.26 L456.00 82.50 L456.55 81.32 L457.10 79.57 L457.65 78.36 L458.20 76.95 L459.00 75.45 L459.80 74.08 L460.60 73.20 L461.40 72.36 L462.54 71.01 L463.70 70.15 L464.70 69.59 L466.60 70.83 L467.08 71.80 L467.49 73.66 L467.90 75.90 L468.15 77.01 L468.39 78.59 L468.63 79.80 L468.90 81.31 L469.20 83.11 L469.41 84.65 L469.64 85.68 L469.87 87.16 L470.12 88.29 L470.38 89.34 L470.64 90.35 L470.92 91.96 L471.20 93.38 L471.44 95.02 L471.69 96.33 L471.96 97.08 L472.23 98.73 L472.51 100.12 L472.78 100.61 L473.05 102.00 L473.32 103.71 L473.57 104.81 L473.80 106.30 L473.98 107.86 L474.15 109.20 L474.30 110.57 L474.45 111.96 L474.59 112.94 L474.73 114.92 L474.87 116.11 L475.02 117.79 L475.17 118.68 L475.33 120.00 L475.51 121.27 L475.70 122.42 L475.91 123.77 L476.12 125.11 L476.35 126.60 L476.59 127.90 L476.83 129.16 L477.08 130.57 L477.33 132.17 L477.59 133.28 L477.84 134.59 L478.10 135.74 L478.35 136.37 L478.60 137.51 L478.92 138.99 L479.24 140.30 L479.56 141.83 L479.88 142.95 L480.20 144.66 L480.53 145.90 L480.87 147.55 L481.23 148.72 L481.60 149.41 L482.19 151.03 L482.80 152.56 L483.44 153.76 L484.10 155.00 L484.79 155.98 L485.50 157.07 L486.35 158.52 L487.21 159.56 L488.12 160.89 L489.13 161.12 L490.30 161.93 L491.38 162.66 L492.53 163.73 L493.77 164.39 L495.10 164.83 L496.54 165.29 L498.10 165.85 L499.29 165.95 L500.66 165.87 L502.14 166.03 L503.67 165.97 L505.19 166.13 L506.62 166.43 L507.91 166.42 L508.99 166.61 L509.80 166.70" fill="none" stroke="#f08c14" stroke-width="2.3" stroke-linejoin="round"/>
<path d="M296.3 146.8 C297.6 147.0 301.2 147.9 303.8 148.1 C306.4 148.3 309.0 148.0 311.6 148.1 C314.2 148.2 317.2 148.4 319.4 148.5 C321.6 148.6 322.6 148.3 324.6 148.5 C326.7 148.7 329.6 149.2 331.7 149.4 C333.8 149.6 335.0 149.8 336.9 149.4 C338.8 149.0 340.9 147.2 342.8 146.8 C344.7 146.4 346.3 147.9 348.0 146.8 C349.7 145.7 351.6 141.4 353.1 140.3 C354.6 139.2 355.7 141.9 357.0 140.3 C358.3 138.7 359.7 132.7 361.0 130.6 C362.3 128.5 363.6 130.4 364.8 128.0 C366.0 125.6 366.9 120.5 368.2 116.4 C369.5 112.3 371.5 106.5 372.7 103.6 C373.9 100.7 374.4 99.6 375.5 99.1 C376.6 98.6 377.9 98.9 379.1 100.4 C380.3 101.9 381.5 105.2 382.7 108.2 C383.9 111.2 385.3 115.7 386.4 118.2 C387.5 120.7 388.4 122.2 389.1 123.3 C389.8 124.3 390.0 124.2 390.5 124.5 C391.0 124.8 391.1 127.5 392.1 125.2 C393.1 122.9 394.9 116.7 396.3 110.8 C397.7 104.9 399.2 95.9 400.4 90.0 C401.6 84.1 402.4 78.4 403.5 75.4 C404.6 72.5 405.6 71.2 406.7 72.3 C407.8 73.3 408.8 77.0 409.8 81.7 C410.8 86.4 411.9 93.8 412.9 100.4 C413.9 107.0 414.9 115.0 416.0 121.3 C417.1 127.5 418.5 133.6 419.2 137.9 C419.9 142.2 419.9 144.6 420.3 147.0 C420.7 149.4 421.0 151.2 421.5 152.5 C422.0 153.8 422.6 154.2 423.5 154.6 C424.4 154.9 425.7 155.1 426.7 154.6 C427.7 154.1 428.5 152.7 429.5 151.5 C430.5 150.3 431.4 149.7 432.5 147.5 C433.6 145.3 435.0 142.2 436.4 138.6 C437.8 135.0 439.4 130.1 440.7 125.7 C442.0 121.3 443.2 116.1 444.3 112.1 C445.4 108.0 446.3 103.8 447.1 101.4 C447.9 99.0 448.1 99.4 449.1 97.7 C450.1 96.0 451.7 93.5 453.0 91.2 C454.3 88.9 455.7 86.4 456.9 84.0 C458.1 81.6 459.0 79.1 460.1 76.9 C461.2 74.7 462.2 72.3 463.4 71.0 C464.6 69.7 466.2 68.3 467.3 69.1 C468.4 69.9 469.1 73.0 469.9 75.6 C470.6 78.2 471.1 81.7 471.8 84.7 C472.5 87.7 473.2 90.8 473.8 93.8 C474.4 96.8 475.2 99.8 475.7 102.9 C476.2 106.0 476.2 108.6 476.7 112.5 C477.2 116.4 477.8 121.3 478.6 126.2 C479.4 131.1 480.6 137.2 481.6 141.8 C482.6 146.4 483.2 150.2 484.5 153.5 C485.8 156.8 487.4 159.5 489.4 161.3 C491.3 163.1 492.9 163.3 496.2 164.2 C499.4 165.1 506.8 166.3 508.9 166.7" fill="none" stroke="#e00000" stroke-width="1.8" stroke-linejoin="round" stroke-dasharray="5.5 6.2"/>
<path d="M296.00 320.30 L296.85 320.75 L298.02 321.05 L299.41 320.76 L300.91 320.61 L302.41 321.10 L303.80 321.64 L305.10 321.74 L306.40 321.53 L307.70 321.72 L309.00 322.34 L310.30 321.99 L311.60 322.44 L313.16 322.54 L314.72 322.55 L316.28 322.61 L317.84 322.30 L319.40 322.28 L320.70 322.79 L322.00 322.54 L323.30 322.46 L324.60 322.21 L325.90 322.35 L327.20 322.73 L328.52 323.06 L329.85 323.08 L331.18 323.09 L332.50 323.07 L333.78 322.98 L335.00 323.07 L336.38 322.78 L337.69 322.89 L338.96 322.58 L340.22 321.94 L341.50 321.52 L342.82 321.37 L344.17 320.99 L345.50 320.34 L346.79 319.85 L348.00 319.55 L349.37 319.03 L350.63 318.49 L351.85 317.32 L353.10 316.44 L354.14 315.72 L355.20 314.59 L356.25 313.75 L357.29 312.10 L358.30 310.68 L359.01 309.66 L359.71 308.43 L360.40 307.31 L361.08 306.21 L361.74 304.99 L362.39 303.67 L363.00 302.43 L363.59 301.32 L364.15 299.80 L364.70 298.85 L365.22 297.45 L365.73 296.36 L366.22 295.01 L366.70 294.03 L367.23 292.64 L367.73 291.30 L368.20 289.82 L368.66 288.62 L369.13 287.70 L369.60 285.73 L370.09 284.60 L370.59 283.22 L371.08 281.66 L371.57 280.00 L372.05 279.27 L372.50 278.05 L373.14 276.73 L373.74 275.20 L374.32 273.91 L374.90 273.39 L376.06 272.36 L377.20 271.87 L378.34 272.37 L379.50 273.94 L380.08 274.70 L380.66 275.79 L381.26 277.31 L381.90 279.18 L382.35 280.44 L382.83 281.60 L383.32 283.15 L383.81 284.25 L384.31 285.35 L384.80 287.16 L385.38 288.17 L385.96 289.64 L386.54 290.99 L387.12 292.11 L387.70 293.14 L388.66 294.69 L389.63 295.78 L390.60 295.99 L392.14 295.38 L393.60 293.94 L394.09 292.98 L394.55 291.57 L394.97 290.26 L395.39 288.56 L395.80 286.78 L396.09 285.65 L396.37 284.90 L396.65 283.26 L396.93 281.35 L397.21 280.07 L397.50 278.49 L397.80 277.23 L398.05 276.23 L398.31 274.63 L398.59 273.21 L398.86 271.52 L399.14 270.46 L399.41 268.73 L399.69 267.36 L399.95 266.58 L400.20 264.76 L400.47 263.35 L400.73 261.89 L400.98 260.61 L401.23 259.31 L401.47 258.28 L401.72 256.93 L401.96 255.72 L402.20 254.17 L402.59 252.71 L402.98 250.88 L403.37 250.01 L403.74 248.79 L404.10 248.07 L405.70 246.22 L407.40 247.87 L407.70 248.77 L408.01 250.01 L408.33 251.21 L408.65 252.47 L408.98 253.94 L409.30 255.38 L409.55 256.43 L409.80 257.53 L410.05 258.67 L410.30 260.73 L410.55 261.80 L410.80 262.94 L411.05 264.71 L411.30 266.12 L411.52 267.29 L411.74 268.88 L411.97 270.55 L412.20 271.42 L412.42 273.09 L412.63 274.38 L412.83 275.79 L413.02 276.67 L413.20 278.16 L413.43 279.75 L413.63 280.23 L413.81 281.99 L413.97 283.46 L414.13 284.13 L414.30 285.52 L414.49 286.88 L414.66 288.25 L414.84 289.36 L415.04 291.15 L415.30 293.22 L415.45 294.25 L415.62 295.51 L415.80 296.50 L416.00 298.34 L416.19 299.61 L416.40 301.34 L416.60 302.76 L416.81 305.00 L417.01 306.12 L417.20 307.61 L417.47 308.92 L417.72 310.22 L417.98 311.66 L418.24 312.77 L418.51 314.47 L418.79 315.29 L419.10 316.74 L419.48 317.60 L419.89 318.82 L420.31 320.49 L420.76 321.44 L421.22 323.28 L421.70 324.30 L422.75 325.94 L423.88 327.59 L425.00 327.84 L426.05 327.35 L427.09 325.85 L428.20 324.49 L428.94 323.99 L429.71 322.77 L430.51 322.27 L431.31 321.46 L432.10 320.29 L432.76 318.74 L433.42 317.57 L434.09 316.24 L434.74 315.46 L435.38 314.50 L436.00 313.06 L436.51 311.91 L437.01 310.77 L437.49 309.71 L437.97 308.15 L438.43 306.73 L438.87 305.81 L439.30 304.66 L439.71 303.43 L440.10 302.05 L440.48 300.88 L440.84 299.56 L441.20 297.98 L441.55 297.11 L441.90 295.88 L442.24 294.29 L442.58 292.89 L442.91 291.40 L443.23 289.85 L443.55 288.53 L443.87 287.16 L444.20 286.05 L444.57 284.95 L444.93 283.62 L445.29 281.94 L445.66 280.74 L446.06 279.36 L446.50 277.90 L446.99 277.03 L447.53 275.40 L448.09 274.41 L448.67 272.63 L449.24 271.61 L449.80 270.28 L450.44 269.22 L451.08 267.91 L451.72 266.34 L452.36 265.30 L453.00 264.37 L453.83 263.12 L454.69 261.94 L455.52 260.30 L456.30 259.45 L457.02 257.67 L457.69 256.22 L458.32 254.51 L458.90 253.38 L459.56 251.53 L460.14 250.26 L460.80 248.57 L461.61 248.10 L462.51 247.17 L463.40 246.65 L464.74 246.06 L466.00 245.83 L467.04 246.39 L468.00 247.60 L468.48 247.97 L468.95 248.97 L469.42 250.43 L469.90 252.37 L470.23 253.18 L470.57 254.68 L470.91 255.98 L471.25 257.74 L471.58 259.44 L471.90 260.67 L472.13 261.72 L472.35 263.59 L472.57 265.13 L472.78 266.36 L472.99 267.91 L473.20 269.21 L473.40 270.65 L473.60 271.81 L473.80 273.31 L474.00 275.04 L474.20 276.56 L474.40 277.95 L474.59 279.01 L474.77 280.36 L474.94 281.23 L475.10 282.19 L475.36 283.96 L475.58 285.01 L475.78 286.44 L476.00 287.54 L476.15 289.34 L476.30 290.67 L476.46 291.87 L476.62 292.92 L476.80 294.22 L477.00 295.72 L477.17 296.63 L477.34 298.07 L477.53 299.37 L477.72 301.18 L477.92 302.93 L478.14 304.54 L478.36 305.36 L478.60 306.43 L478.85 308.36 L479.13 309.87 L479.41 311.40 L479.71 312.77 L480.01 314.04 L480.31 315.80 L480.61 317.00 L480.90 318.15 L481.27 319.27 L481.63 320.83 L481.99 322.60 L482.37 323.96 L482.76 325.38 L483.20 326.46 L483.76 328.10 L484.35 329.32 L484.98 330.70 L485.66 332.32 L486.40 333.85 L487.20 334.62 L488.06 335.49 L488.97 336.34 L489.95 337.16 L491.00 337.99 L492.15 338.93 L493.40 339.54 L494.71 340.00 L496.02 340.55 L497.30 340.45 L498.85 340.99 L500.38 341.86 L501.92 341.62 L503.50 341.73 L504.92 342.11 L506.47 342.60 L507.98 342.64 L509.28 342.54 L510.20 342.90" fill="none" stroke="#5a22f5" stroke-width="2.4" stroke-linejoin="round"/>
<path d="M296.0 323.3 C298.2 323.4 304.7 324.0 309.0 324.2 C313.3 324.4 317.9 324.3 322.0 324.6 C326.1 324.9 329.8 326.1 333.7 325.9 C337.6 325.7 341.9 325.0 345.4 323.6 C348.8 322.2 351.8 320.0 354.4 317.7 C357.0 315.4 359.3 312.1 360.8 310.0 C362.3 307.9 362.5 307.2 363.5 305.4 C364.5 303.5 365.4 302.1 366.7 298.9 C368.0 295.7 370.0 289.8 371.4 286.0 C372.8 282.2 373.8 277.8 374.9 276.1 C376.0 274.5 376.9 275.8 377.8 276.1 C378.7 276.4 379.2 276.4 380.1 277.9 C381.0 279.4 382.0 282.2 383.0 284.9 C384.0 287.6 385.0 291.7 386.0 294.2 C387.0 296.7 388.0 298.6 388.9 300.0 C389.8 301.4 390.4 302.6 391.2 302.4 C392.0 302.2 392.7 301.2 393.6 298.9 C394.5 296.6 395.6 292.1 396.5 288.4 C397.4 284.7 398.1 280.6 398.8 276.7 C399.6 272.8 400.3 268.4 401.0 264.7 C401.7 261.0 402.3 257.3 402.9 254.5 C403.5 251.7 404.2 249.3 404.8 248.0 C405.4 246.7 405.8 246.5 406.3 246.5 C406.8 246.5 407.4 246.4 408.0 248.0 C408.6 249.6 409.2 252.9 409.9 256.0 C410.5 259.1 411.2 262.8 411.9 266.5 C412.5 270.2 413.3 274.6 413.8 278.0 C414.3 281.4 414.6 284.1 415.0 287.0 C415.4 289.9 415.5 292.1 416.0 295.5 C416.5 298.9 417.3 303.9 417.9 307.5 C418.5 311.1 419.2 314.1 419.8 317.0 C420.4 319.9 421.0 322.9 421.5 325.0 C422.0 327.1 422.4 328.6 423.0 329.5 C423.6 330.4 424.3 330.5 425.0 330.6 C425.7 330.7 426.2 330.8 427.0 330.3 C427.8 329.8 428.5 328.8 429.5 327.5 C430.5 326.2 431.4 325.4 432.8 322.7 C434.2 319.9 436.8 314.3 438.0 311.0 C439.2 307.7 439.6 305.6 440.3 303.0 C441.1 300.4 441.8 298.2 442.5 295.5 C443.2 292.8 443.9 289.8 444.6 287.0 C445.4 284.2 446.1 281.6 447.0 279.0 C447.9 276.4 449.2 273.6 450.3 271.3 C451.4 269.0 452.4 266.9 453.5 265.0 C454.6 263.1 455.8 261.5 456.8 259.8 C457.8 258.1 458.6 256.2 459.4 254.6 C460.2 253.0 460.6 251.3 461.4 250.0 C462.2 248.7 463.1 247.4 464.0 246.7 C464.9 246.0 465.9 245.6 466.7 245.8 C467.5 246.0 468.0 246.6 468.6 247.8 C469.2 249.0 469.9 250.6 470.5 252.8 C471.1 255.1 471.8 258.1 472.4 261.3 C473.0 264.6 473.6 268.7 474.1 272.3 C474.6 275.9 475.2 279.7 475.6 282.7 C476.0 285.7 476.3 288.2 476.6 290.5 C476.9 292.8 477.1 293.6 477.5 296.4 C477.9 299.2 478.5 303.7 479.1 307.3 C479.8 310.9 480.6 314.9 481.4 318.2 C482.2 321.4 482.8 324.2 483.7 326.8 C484.6 329.4 485.6 331.9 486.9 333.8 C488.2 335.8 489.7 337.2 491.5 338.5 C493.3 339.8 495.8 340.7 497.8 341.3 C499.9 341.9 501.7 342.1 503.8 342.4 C505.9 342.7 509.1 343.1 510.2 343.3" fill="none" stroke="#e00000" stroke-width="1.8" stroke-linejoin="round" stroke-dasharray="5.5 6"/>
<g stroke="#1c1c1c" stroke-width="1.9" fill="none" stroke-linejoin="round">
<rect x="27.1" y="0.6" width="219.9" height="352.0"/>
<line x1="27.1" y1="176.9" x2="247.0" y2="176.9"/>
<rect x="296.3" y="0.6" width="219.9" height="352.0"/>
<line x1="296.3" y1="176.9" x2="516.2" y2="176.9"/>
</g>
<g stroke="#1c1c1c" stroke-width="1.4">
<line x1="109.6" y1="0.6" x2="109.6" y2="3.2"/><line x1="137.1" y1="0.6" x2="137.1" y2="5.8"/><line x1="164.5" y1="0.6" x2="164.5" y2="3.2"/><line x1="192.0" y1="0.6" x2="192.0" y2="5.8"/><line x1="219.5" y1="0.6" x2="219.5" y2="3.2"/>
<line x1="54.6" y1="173.8" x2="54.6" y2="180.0"/><line x1="82.1" y1="171.7" x2="82.1" y2="182.1"/><line x1="109.6" y1="173.8" x2="109.6" y2="180.0"/><line x1="137.1" y1="171.7" x2="137.1" y2="182.1"/><line x1="164.5" y1="173.8" x2="164.5" y2="180.0"/><line x1="192.0" y1="171.7" x2="192.0" y2="182.1"/><line x1="219.5" y1="173.8" x2="219.5" y2="180.0"/>
<line x1="54.6" y1="350.9" x2="54.6" y2="352.6"/><line x1="82.1" y1="349.2" x2="82.1" y2="352.6"/><line x1="109.6" y1="350.9" x2="109.6" y2="352.6"/><line x1="137.1" y1="349.2" x2="137.1" y2="352.6"/><line x1="164.5" y1="350.9" x2="164.5" y2="352.6"/><line x1="192.0" y1="349.2" x2="192.0" y2="352.6"/><line x1="219.5" y1="350.9" x2="219.5" y2="352.6"/>
<line x1="378.8" y1="0.6" x2="378.8" y2="3.2"/><line x1="406.2" y1="0.6" x2="406.2" y2="5.8"/><line x1="433.7" y1="0.6" x2="433.7" y2="3.2"/><line x1="461.2" y1="0.6" x2="461.2" y2="5.8"/><line x1="488.7" y1="0.6" x2="488.7" y2="3.2"/>
<line x1="323.8" y1="173.8" x2="323.8" y2="180.0"/><line x1="351.3" y1="171.7" x2="351.3" y2="182.1"/><line x1="378.8" y1="173.8" x2="378.8" y2="180.0"/><line x1="406.2" y1="171.7" x2="406.2" y2="182.1"/><line x1="433.7" y1="173.8" x2="433.7" y2="180.0"/><line x1="461.2" y1="171.7" x2="461.2" y2="182.1"/><line x1="488.7" y1="173.8" x2="488.7" y2="180.0"/>
<line x1="323.8" y1="350.9" x2="323.8" y2="352.6"/><line x1="351.3" y1="349.2" x2="351.3" y2="352.6"/><line x1="378.8" y1="350.9" x2="378.8" y2="352.6"/><line x1="406.2" y1="349.2" x2="406.2" y2="352.6"/><line x1="433.7" y1="350.9" x2="433.7" y2="352.6"/><line x1="461.2" y1="349.2" x2="461.2" y2="352.6"/><line x1="488.7" y1="350.9" x2="488.7" y2="352.6"/>
</g>
<g font-family="Liberation Sans, sans-serif" font-size="10.1" fill="#1a1a1a" text-anchor="middle" stroke="#1a1a1a" stroke-width="0.12">
<text x="27.1" y="364.5">215</text>
<text x="82.1" y="364.5">210</text>
<text x="137.1" y="364.5">205</text>
<text x="192.0" y="364.5">200</text>
<text x="247.0" y="364.5">195</text>
<text x="296.3" y="364.5">215</text>
<text x="351.3" y="364.5">210</text>
<text x="406.2" y="364.5">205</text>
<text x="461.2" y="364.5">200</text>
<text x="516.2" y="364.5">195</text>
</g>
<g font-family="Liberation Sans, sans-serif" font-weight="bold" font-size="11.7" fill="#111" text-anchor="middle" stroke="#111" stroke-width="0.18">
<text x="136.8" y="381.6">Binding energy (eV)</text>
<text x="406.1" y="381.6">Binding energy (eV)</text>
<text transform="translate(12.1 84.5) rotate(-90) scale(1 1.1)">Intensity (a. u.)</text>
<text transform="translate(529.5 83.6) rotate(90)">Intensity (a. u.)</text>
<text transform="translate(12.1 261.2) rotate(-90) scale(1 1.1)">Intensity (a. u.)</text>
<text transform="translate(529.5 259.8) rotate(90)">Intensity (a. u.)</text>
</g>
<g font-family="Liberation Serif, serif" font-size="17.6" fill="#111" stroke="#111" stroke-width="0.25">
<text x="0.1" y="13.1">(a)</text>
<text x="0.1" y="190.2">(b)</text>
<text x="269.4" y="13.1">(c)</text>
<text x="269.2" y="190.4">(d)</text>
</g>
<g font-family="Liberation Sans, sans-serif" font-weight="bold" fill="#111" stroke="#111" stroke-width="0.22">
<text x="91.36" y="93.50" font-size="9.00" letter-spacing="0.12">Nb 3d</text><text x="116.49" y="96.80" font-size="5.60">3/2</text>
<text x="120.16" y="63.20" font-size="9.00" letter-spacing="0.12">Nb 3d</text><text x="145.29" y="66.20" font-size="5.60">5/2</text>
<text x="150.94" y="81.90" font-size="9.00" letter-spacing="0.53">Cl 2p</text><text x="175.30" y="85.20" font-size="5.60">1/2</text>
<text x="182.94" y="63.10" font-size="9.00" letter-spacing="0.08">Cl 2p</text><text x="205.49" y="66.30" font-size="5.60">3/2</text>
<text x="89.46" y="267.90" font-size="9.00" letter-spacing="0.60">Nb 3d</text><text x="116.79" y="271.50" font-size="5.60">3/2</text>
<text x="118.36" y="239.30" font-size="9.00" letter-spacing="0.57">Nb 3d</text><text x="145.69" y="243.10" font-size="5.60">5/2</text>
<text x="150.44" y="257.90" font-size="9.00" letter-spacing="0.73">Cl 2p</text><text x="175.70" y="261.60" font-size="5.60">1/2</text>
<text x="181.14" y="239.00" font-size="9.00" letter-spacing="0.58">Cl 2p</text><text x="205.69" y="242.50" font-size="5.60">3/2</text>
<text x="335.96" y="75.40" font-size="9.00" letter-spacing="0.05">Nb 3d</text><text x="360.69" y="78.80" font-size="5.60">3/2</text>
<text x="388.46" y="67.10" font-size="9.00" letter-spacing="-0.08">Nb 3d</text><text x="412.69" y="70.40" font-size="5.60">5/2</text>
<text x="418.24" y="87.10" font-size="9.00" letter-spacing="-0.04">Cl 2p</text><text x="439.90" y="90.70" font-size="5.60">1/2</text>
<text x="450.04" y="64.10" font-size="9.00" letter-spacing="-0.02">Cl 2p</text><text x="471.89" y="67.10" font-size="5.60">3/2</text>
<text x="314.56" y="106.10" font-size="9.00" letter-spacing="0.05">Nb oxide</text>
<text x="327.42" y="118.20" font-size="9.00" letter-spacing="0.03">3d</text><text x="337.69" y="121.90" font-size="5.60">3/2</text>
<text x="358.96" y="267.40" font-size="9.00" letter-spacing="0.10">Nb 3d</text><text x="384.49" y="270.90" font-size="5.60">3/2</text>
<text x="387.56" y="242.00" font-size="9.00" letter-spacing="0.02">Nb 3d</text><text x="412.69" y="244.90" font-size="5.60">5/2</text>
<text x="421.74" y="252.90" font-size="9.00" letter-spacing="0.13">Cl 2p</text><text x="444.20" y="256.20" font-size="5.60">1/2</text>
<text x="450.74" y="240.60" font-size="9.00" letter-spacing="-0.07">Cl 2p</text><text x="472.49" y="243.60" font-size="5.60">3/2</text>
</g>
<g font-family="Liberation Sans, sans-serif" font-weight="bold" font-size="9.2" fill="#111" stroke="#111" stroke-width="0.22">
<text x="51.9" y="22.3">O 1s</text>
<text x="339.6" y="19.7">O 1s</text>
</g>
<text x="175.6" y="45.7" font-family="Liberation Sans, sans-serif" font-weight="bold" font-size="9.72" fill="#111" stroke="#111" stroke-width="0.25">Pristine flake</text>
<path d="M181.7 24 L197 19.5 L224 17.6 L230.2 20.6 L230.2 23 L208.4 32.6 L181.6 27.4 Z" fill="#2a2a2a"/>
<path d="M181.7 24 L197 19.5 L224 17.6 L230 20.6 L208.4 28.7 Z" fill="#4f4f4f"/>
<path d="M182.2 18.2 L198.4 16.6 L224 17.6 L211 21.4 L196 20.2 L189 19.6 Z" fill="#8c8c8c"/>
<path d="M213.1 8.9 C211.3 12.2 208 15.2 204.6 15.3 C201.4 15.4 199.8 12.6 199.9 7.2" fill="none" stroke="#e00000" stroke-width="3.2" stroke-linecap="butt"/>
<path d="M196.5 4.9 L201.2 1.2 L202.8 8.2 Z" fill="#e00000"/>
<g font-family="Liberation Sans, sans-serif" font-weight="bold" font-size="11.5" fill="#e00000" text-anchor="middle">
<text x="269.9" y="42.3">Resist</text>
<text x="271.2" y="56.0">process</text>
</g>
<path d="M261.7 71.9 L270.4 71.9 L270.4 59.7 L281.4 82.7 L270.4 106 L270.4 94.4 L261.7 94.4 Z" fill="#e00000"/>
<g font-family="Liberation Sans, sans-serif" font-weight="bold" font-size="11.43" fill="#e00000">
<text x="98.1" y="166.5">Ar ion etching</text>
<text x="367.3" y="166.4">Ar ion etching</text>
</g>
<path d="M124.9 170.1 L148 170.1 L148 178.1 L160.5 178.1 L136.5 187.1 L112.5 178.1 L124.9 178.1 Z" fill="#e00000"/>
<path d="M394.3 170 L417.1 170 L417.1 177.6 L432 177.6 L405.8 186.3 L380.4 177.6 L394.3 177.6 Z" fill="#e00000"/>
</svg>
</body></html>
